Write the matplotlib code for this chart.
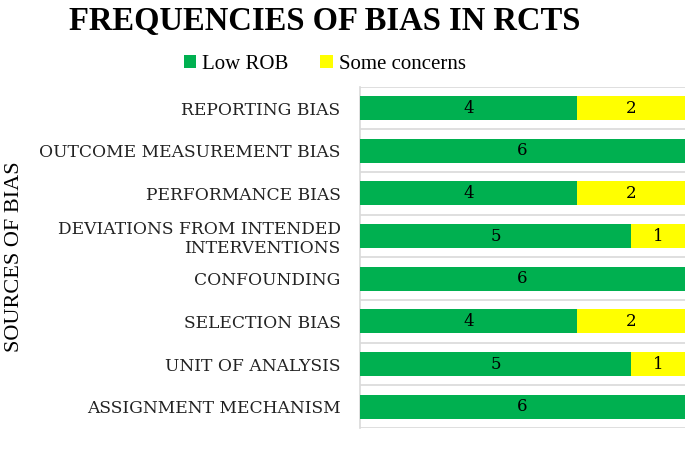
import matplotlib
matplotlib.use("Agg")
import matplotlib.pyplot as plt
import numpy as np

categories = ["ASSIGNMENT MECHANISM", "UNIT OF ANALYSIS", "SELECTION BIAS", "CONFOUNDING",
              "DEVIATIONS FROM INTENDED\nINTERVENTIONS", "PERFORMANCE BIAS",
              "OUTCOME MEASUREMENT BIAS", "REPORTING BIAS"]
low_rob = [6, 5, 4, 6, 5, 4, 6, 4]
some_concerns = [0, 1, 2, 0, 1, 2, 0, 2]

green = "#00B050"
yellow = "#FFFF00"

fig = plt.figure(figsize=(6.85, 4.58), dpi=100)
ax = fig.add_axes([0.5255, 0.0655, 0.4745, 0.745])

y = np.arange(len(categories))
b1 = ax.barh(y, low_rob, height=0.56, color=green, label="Low ROB", zorder=3)
b2 = ax.barh(y, some_concerns, left=low_rob, height=0.56, color=yellow, label="Some concerns", zorder=3)

for i in range(len(categories)):
    if low_rob[i] > 0:
        ax.text(low_rob[i] / 2, y[i], str(low_rob[i]), ha="center", va="center",
                fontsize=12, family="DejaVu Serif", color="black", zorder=4)
    if some_concerns[i] > 0:
        ax.text(low_rob[i] + some_concerns[i] / 2, y[i], str(some_concerns[i]), ha="center",
                va="center", fontsize=12, family="DejaVu Serif", color="black", zorder=4)

ax.set_xlim(0, 6)
ax.set_ylim(-0.5, len(categories) - 0.5)
ax.set_yticks(y)
ax.set_yticklabels(categories, family="DejaVu Serif", fontsize=12.3, color="#222222",
                   linespacing=1.15)
ax.tick_params(axis="y", length=0, pad=14)
ax.set_xticks([])
for b in np.arange(-0.5, len(categories), 1.0):
    ax.axhline(b, color="#d9d9d9", lw=1.2, zorder=1)
for s in ["top", "right", "bottom"]:
    ax.spines[s].set_visible(False)
ax.spines["left"].set_color("#d9d9d9")
ax.spines["left"].set_linewidth(1.2)

fig.text(0.021, 0.44, "SOURCES OF BIAS", rotation=90, ha="center", va="center",
         family="Liberation Serif", fontsize=16)
fig.text(0.474, 0.952, "FREQUENCIES OF BIAS IN RCTS", ha="center", va="center",
         family="Liberation Serif", fontweight="bold", fontsize=23.5)

leg = fig.legend(handles=[b1, b2], loc="center", bbox_to_anchor=(0.474, 0.86), ncol=2,
                 frameon=False, prop={"family": "Liberation Serif", "size": 15},
                 handlelength=0.6, handleheight=0.6, handletextpad=0.3, columnspacing=1.5)

fig.savefig("out.png", dpi=100)
